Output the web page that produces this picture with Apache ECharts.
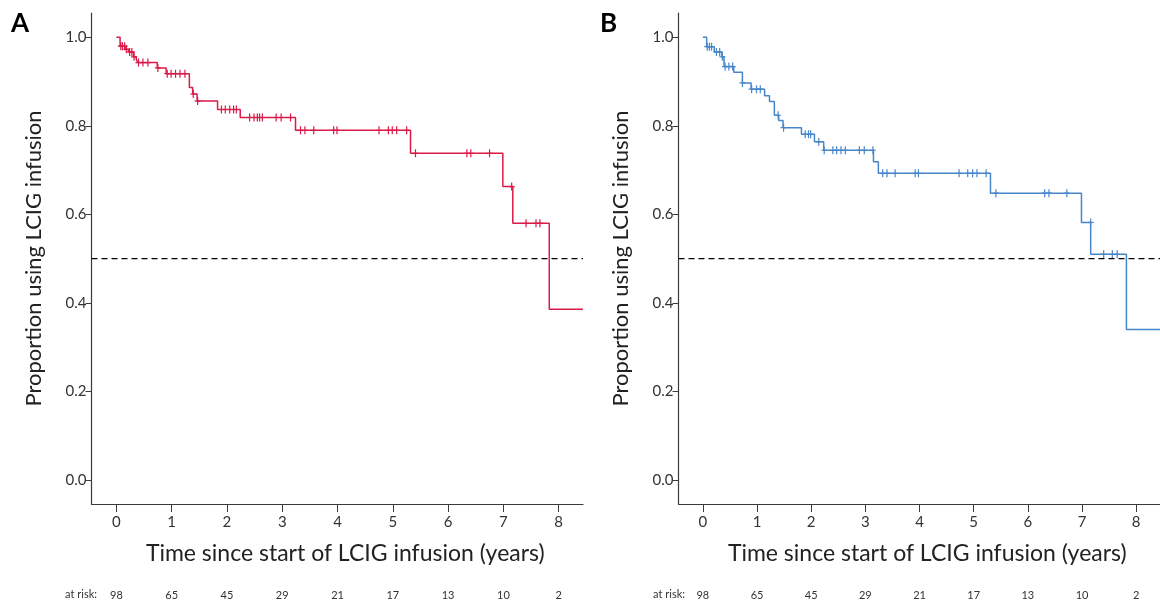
<!DOCTYPE html>
<html>
<head>
<meta charset="utf-8">
<script src="https://cdn.jsdelivr.net/npm/echarts@6/dist/echarts.min.js"></script>
<style>
  html, body { margin: 0; padding: 0; background: #fff; }
  #chart { width: 1160px; height: 604px; }
</style>
</head>
<body>
<div id="chart"></div>
<script>
// ticks + number at risk (same for both panels)
const timeTicks = [0, 1, 2, 3, 4, 5, 6, 7, 8];
const atRisk = [98, 65, 45, 29, 21, 17, 13, 10, 2];
const yTicks = [0, 0.2, 0.4, 0.6, 0.8, 1.0];
const medianLine = 0.5;

// panel A - step curve [time, proportion]
const curveA = [
  [0, 1.0], [0.067, 0.980], [0.16, 0.973], [0.22, 0.967], [0.31, 0.956], [0.36, 0.950],
  [0.39, 0.943], [0.74, 0.931], [0.90, 0.918], [1.32, 0.887], [1.38, 0.872], [1.46, 0.856],
  [1.83, 0.837], [2.24, 0.819], [3.24, 0.790], [5.32, 0.738], [6.99, 0.663], [7.17, 0.580],
  [7.83, 0.386], [8.44, 0.386]
];
// panel A - censored
const censorA = [
  [0.08, 0.980], [0.11, 0.980], [0.15, 0.980], [0.18, 0.973], [0.24, 0.967], [0.28, 0.967],
  [0.32, 0.956], [0.40, 0.943], [0.48, 0.943], [0.57, 0.943], [0.75, 0.931], [0.92, 0.918],
  [0.99, 0.918], [1.07, 0.918], [1.15, 0.918], [1.24, 0.918], [1.39, 0.872], [1.47, 0.856],
  [1.90, 0.837], [1.97, 0.837], [2.05, 0.837], [2.12, 0.837], [2.17, 0.837], [2.41, 0.819],
  [2.49, 0.819], [2.55, 0.819], [2.59, 0.819], [2.64, 0.819], [2.89, 0.819], [2.98, 0.819],
  [3.15, 0.819], [3.33, 0.790], [3.41, 0.790], [3.57, 0.790], [3.93, 0.790], [3.99, 0.790],
  [4.75, 0.790], [4.92, 0.790], [4.99, 0.790], [5.07, 0.790], [5.25, 0.790], [5.41, 0.738],
  [6.34, 0.738], [6.41, 0.738], [6.75, 0.738], [7.15, 0.663], [7.41, 0.580], [7.59, 0.580],
  [7.66, 0.580]
];

// panel B
const curveB = [
  [0, 1.0], [0.07, 0.979], [0.21, 0.967], [0.35, 0.956], [0.39, 0.934], [0.57, 0.921],
  [0.73, 0.897], [0.89, 0.883], [1.14, 0.868], [1.23, 0.855], [1.32, 0.824], [1.40, 0.812],
  [1.48, 0.796], [1.82, 0.781], [2.06, 0.764], [2.23, 0.745], [3.15, 0.719], [3.24, 0.693],
  [5.31, 0.648], [6.99, 0.582], [7.16, 0.510], [7.82, 0.340], [8.44, 0.340]
];
const censorB = [
  [0.08, 0.979], [0.12, 0.979], [0.16, 0.979], [0.25, 0.967], [0.31, 0.967], [0.36, 0.956],
  [0.41, 0.934], [0.48, 0.934], [0.55, 0.934], [0.73, 0.897], [0.90, 0.883], [0.99, 0.883],
  [1.06, 0.883], [1.39, 0.824], [1.49, 0.796], [1.89, 0.781], [1.95, 0.781], [1.99, 0.781],
  [2.14, 0.764], [2.24, 0.745], [2.40, 0.745], [2.47, 0.745], [2.55, 0.745], [2.63, 0.745],
  [2.89, 0.745], [2.98, 0.745], [3.14, 0.745], [3.32, 0.693], [3.40, 0.693], [3.55, 0.693],
  [3.92, 0.693], [3.98, 0.693], [4.73, 0.693], [4.89, 0.693], [4.98, 0.693], [5.06, 0.693],
  [5.23, 0.693], [5.41, 0.648], [6.31, 0.648], [6.39, 0.648], [6.72, 0.648], [7.16, 0.582],
  [7.40, 0.510], [7.56, 0.510], [7.65, 0.510]
];

const colorA = '#da1a47';
const colorB = '#4886ca';
const axisColor = '#3a3a3a';
const font = 'Lato, "Open Sans", sans-serif';
const xMin = -0.45, xMax = 8.44;
const yMin = -0.054, yMax = 1.055;

const plus = 'path://M2.4,0 h1.2 v8 h-1.2 Z M0,3.4 h6 v1.2 h-6 Z';

function mainX(gi) {
  return {
    gridIndex: gi, type: 'value', min: xMin, max: xMax,
    name: 'Time since start of LCIG infusion (years)',
    nameLocation: 'middle', nameGap: 38,
    nameTextStyle: { fontFamily: font, fontSize: 23, color: '#222', padding: [0, 0, 0, 16] },
    axisLine: { show: true, onZero: false, lineStyle: { color: axisColor, width: 1.2 } },
    axisTick: { show: true, length: 8, customValues: timeTicks, lineStyle: { color: axisColor } },
    axisLabel: { customValues: timeTicks, margin: 11, fontFamily: font, fontSize: 15, color: '#333' },
    splitLine: { show: false }
  };
}
function riskX(gi) {
  return {
    gridIndex: gi, type: 'value', min: xMin, max: xMax, position: 'bottom', offset: 82,
    axisLine: { show: false, onZero: false }, axisTick: { show: false }, splitLine: { show: false },
    axisLabel: {
      customValues: timeTicks, margin: 4, fontFamily: font, fontSize: 11, color: '#333',
      formatter: v => String(atRisk[timeTicks.indexOf(v)])
    }
  };
}
function mainY(gi) {
  return {
    gridIndex: gi, type: 'value', min: yMin, max: yMax,
    name: 'Proportion using LCIG infusion', nameLocation: 'middle', nameGap: 47,
    nameTextStyle: { fontFamily: font, fontSize: 22, color: '#222' },
    axisLine: { show: true, onZero: false, lineStyle: { color: axisColor, width: 1.2 } },
    axisTick: { show: true, length: 6, customValues: yTicks, lineStyle: { color: axisColor } },
    axisLabel: {
      customValues: yTicks, margin: 5, fontFamily: font, fontSize: 15, color: '#333',
      formatter: v => v.toFixed(1)
    },
    splitLine: { show: false }
  };
}
function panelSeries(idx, curve, censor, color) {
  return [
    {
      type: 'line', xAxisIndex: idx * 2, yAxisIndex: idx, data: [[xMin, medianLine], [xMax, medianLine]],
      symbol: 'none', silent: true,
      lineStyle: { color: '#000', width: 1.2, type: [6, 4] }
    },
    {
      type: 'line', xAxisIndex: idx * 2, yAxisIndex: idx, data: curve, step: 'end',
      symbol: 'none', lineStyle: { color: color, width: 1.5 }
    },
    {
      type: 'scatter', xAxisIndex: idx * 2, yAxisIndex: idx, data: censor,
      symbol: plus, symbolSize: [6, 8], symbolKeepAspect: false,
      itemStyle: { color: color, opacity: 1 }
    }
  ];
}

const chart = echarts.init(document.getElementById('chart'));
chart.setOption({
  animation: false,
  grid: [
    { left: 91.5, top: 13, width: 491.5, height: 491 },
    { left: 678.5, top: 13, width: 491.5, height: 491 }
  ],
  xAxis: [mainX(0), riskX(0), mainX(1), riskX(1)],
  yAxis: [mainY(0), mainY(1)],
  graphic: [
    { type: 'text', left: 11, top: 11, style: { text: 'A', font: 'bold 26px ' + font, fill: '#000' } },
    { type: 'text', left: 600, top: 11, style: { text: 'B', font: 'bold 26px ' + font, fill: '#000' } },
    { type: 'text', right: 1160 - 97, top: 589, style: { text: 'at risk:', font: '11px ' + font, fill: '#333' } },
    { type: 'text', right: 1160 - 685, top: 589, style: { text: 'at risk:', font: '11px ' + font, fill: '#333' } }
  ],
  series: [].concat(
    panelSeries(0, curveA, censorA, colorA),
    panelSeries(1, curveB, censorB, colorB)
  )
});
</script>
</body>
</html>
